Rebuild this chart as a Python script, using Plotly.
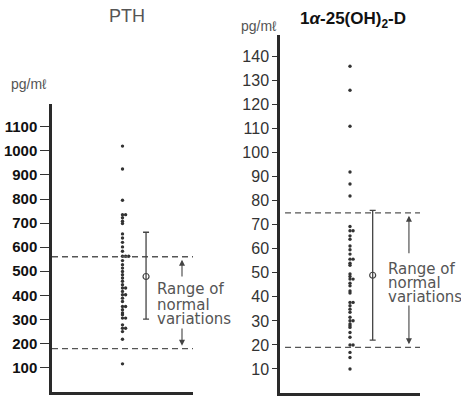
import plotly.graph_objects as go
from collections import Counter

# ---------------- data ----------------
pth_values = [1020, 925, 795, 735, 735, 722, 708, 698, 655, 638, 620, 601, 583,
              562, 562, 562, 544, 527, 513, 499, 485, 472, 458, 444, 430, 430,
              416, 402, 402, 388, 374, 353, 353, 340, 326, 319, 305, 305, 277,
              263, 263, 249, 217, 115]
vitd_values = [136, 126, 111, 92, 87, 82, 69.3, 67.5, 67.5, 65.4, 64, 61.2, 59.6,
               57.8, 55.7, 55.7, 54, 53.2, 49.5, 48.5, 47.4, 47.4, 45.7, 44.6,
               42.5, 41.6, 37.7, 37.7, 36.3, 34.9, 33.6, 31.5, 30.1, 30.1, 28.7,
               28, 27.3, 25.2, 23.2, 20, 20, 16.9, 14.8, 10]
pth_normal_range = [178, 560]
vitd_normal_range = [19, 75]
pth_mean_sd = [478, 662, 301]      # mean, upper, lower
vitd_mean_sd = [49, 76, 22]
pth_ticks = [100, 200, 300, 400, 500, 600, 700, 800, 900, 1000, 1100]
vitd_ticks = [10, 20, 30, 40, 50, 60, 70, 80, 90, 100, 110, 120, 130, 140]
pth_title = "PTH"
vitd_title = "1<i>α</i>-25(OH)<sub>2</sub>-D"
unit_label = "pg/mℓ"
range_text = ["Range of", "normal", "variations"]

# ---------------- style / layout constants ----------------
W, H = 461, 398
AX_COL = "#2a2a2a"
DOT_COL = "#333333"
LINE_COL = "#555555"
TEXT_COL = "#555555"


def col_x(values, base, step=0.022):
    seen = Counter()
    xs = []
    for v in values:
        xs.append(base + step * seen[v])
        seen[v] += 1
    return xs


fig = go.Figure()

panels = [
    dict(xa="x", ya="y", vals=pth_values, rng=pth_normal_range, msd=pth_mean_sd,
         dot_x=0.50, eb_x=0.667, arr_x=0.922, dash_x0=0.0, txt_x=0.73,
         up_tail=472, lo_tail=268, txt_y=[424, 359, 303], sym="circle-open"),
    dict(xa="x2", ya="y2", vals=vitd_values, rng=vitd_normal_range, msd=vitd_mean_sd,
         dot_x=0.50, eb_x=0.662, arr_x=0.921, dash_x0=0.036, txt_x=0.76,
         up_tail=57.5, lo_tail=37, txt_y=[51.5, 45.7, 40.0], sym="circle-open"),
]

for p in panels:
    # dots
    fig.add_trace(go.Scatter(
        x=col_x(p["vals"], p["dot_x"]), y=p["vals"], xaxis=p["xa"], yaxis=p["ya"],
        mode="markers", marker=dict(size=3.4, color=DOT_COL), showlegend=False,
        hoverinfo="skip"))
    # dashed normal range lines
    for v in p["rng"]:
        fig.add_trace(go.Scatter(
            x=[p["dash_x0"], 1.0], y=[v, v], xaxis=p["xa"], yaxis=p["ya"],
            mode="lines", line=dict(color=LINE_COL, width=1.3, dash="6px,4px"),
            showlegend=False, hoverinfo="skip"))
    # mean +- SD
    m, hi, lo = p["msd"]
    fig.add_trace(go.Scatter(
        x=[p["eb_x"]], y=[m], xaxis=p["xa"], yaxis=p["ya"], mode="markers",
        marker=dict(symbol=p["sym"], size=6, color="#444", line=dict(width=1.2)),
        error_y=dict(type="data", symmetric=False, array=[hi - m], arrayminus=[m - lo],
                     color="#444", thickness=1.3, width=3),
        showlegend=False, hoverinfo="skip"))
    # arrows
    for tip, tail in [(p["rng"][1], p["up_tail"]), (p["rng"][0], p["lo_tail"])]:
        fig.add_annotation(x=p["arr_x"], y=tip, ax=p["arr_x"], ay=tail,
                           xref=p["xa"], yref=p["ya"], axref=p["xa"], ayref=p["ya"],
                           text="", showarrow=True, arrowhead=2, arrowsize=1.1,
                           arrowwidth=1.1, arrowcolor="#444", standoff=3)
    # text
    for t, ty in zip(range_text, p["txt_y"]):
        fig.add_annotation(x=p["txt_x"], y=ty, xref=p["xa"], yref=p["ya"], text=t,
                           showarrow=False, xanchor="left", yanchor="middle",
                           font=dict(family="DejaVu Sans", size=15, color=TEXT_COL))

# titles and unit labels (paper coords)
def paper(px, py):
    return px / W, 1 - py / H

for txt, px, py, size, color, weight in [
    (pth_title, 127, 16, 18, "#555", "normal"),
    (vitd_title, 353, 20, 17, "#111", "bold"),
    (unit_label, 29, 84, 14, "#555", "normal"),
    (unit_label, 259, 26, 14, "#555", "normal"),
]:
    x, y = paper(px, py)
    fig.add_annotation(x=x, y=y, xref="paper", yref="paper", text=txt, showarrow=False,
                       xanchor="center", yanchor="middle",
                       font=dict(family="Liberation Sans, Arial", size=size, color=color,
                                 weight=weight))

xaxis_common = dict(range=[0, 1], showline=True, linewidth=2.5, linecolor=AX_COL,
                    showticklabels=False, ticks="", showgrid=False, zeroline=False,
                    fixedrange=True)
yaxis_common = dict(showline=True, linewidth=2.5, linecolor=AX_COL, ticks="outside",
                    tickwidth=1.4, tickcolor="#333", showgrid=False,
                    zeroline=False, fixedrange=True)

fig.update_layout(
    width=W, height=H, margin=dict(l=0, r=0, t=0, b=0),
    paper_bgcolor="white", plot_bgcolor="white", showlegend=False,
    xaxis=dict(domain=[52 / W, 193 / W], anchor="y", **xaxis_common),
    yaxis=dict(domain=[1 - 391.5 / H, 1 - 104 / H], anchor="x", range=[0, 1195],
               tickvals=pth_ticks, ticktext=[str(t) for t in pth_ticks], ticklen=9,
               tickfont=dict(family="Liberation Sans, Arial", size=15, color="#111",
                             weight="bold"), **yaxis_common),
    xaxis2=dict(domain=[280 / W, 420 / W], anchor="y2", **xaxis_common),
    yaxis2=dict(domain=[1 - 393 / H, 1 - 35 / H], anchor="x2", range=[0, 149],
                tickvals=vitd_ticks, ticktext=[str(t) for t in vitd_ticks], ticklen=5,
                tickfont=dict(family="Liberation Sans, Arial", size=16, color="#333"),
                **yaxis_common),
)

fig.write_html(
    "out.html",
    config={"displayModeBar": False},
    post_script="document.body.style.margin='0';document.body.style.overflow='hidden';",
)
